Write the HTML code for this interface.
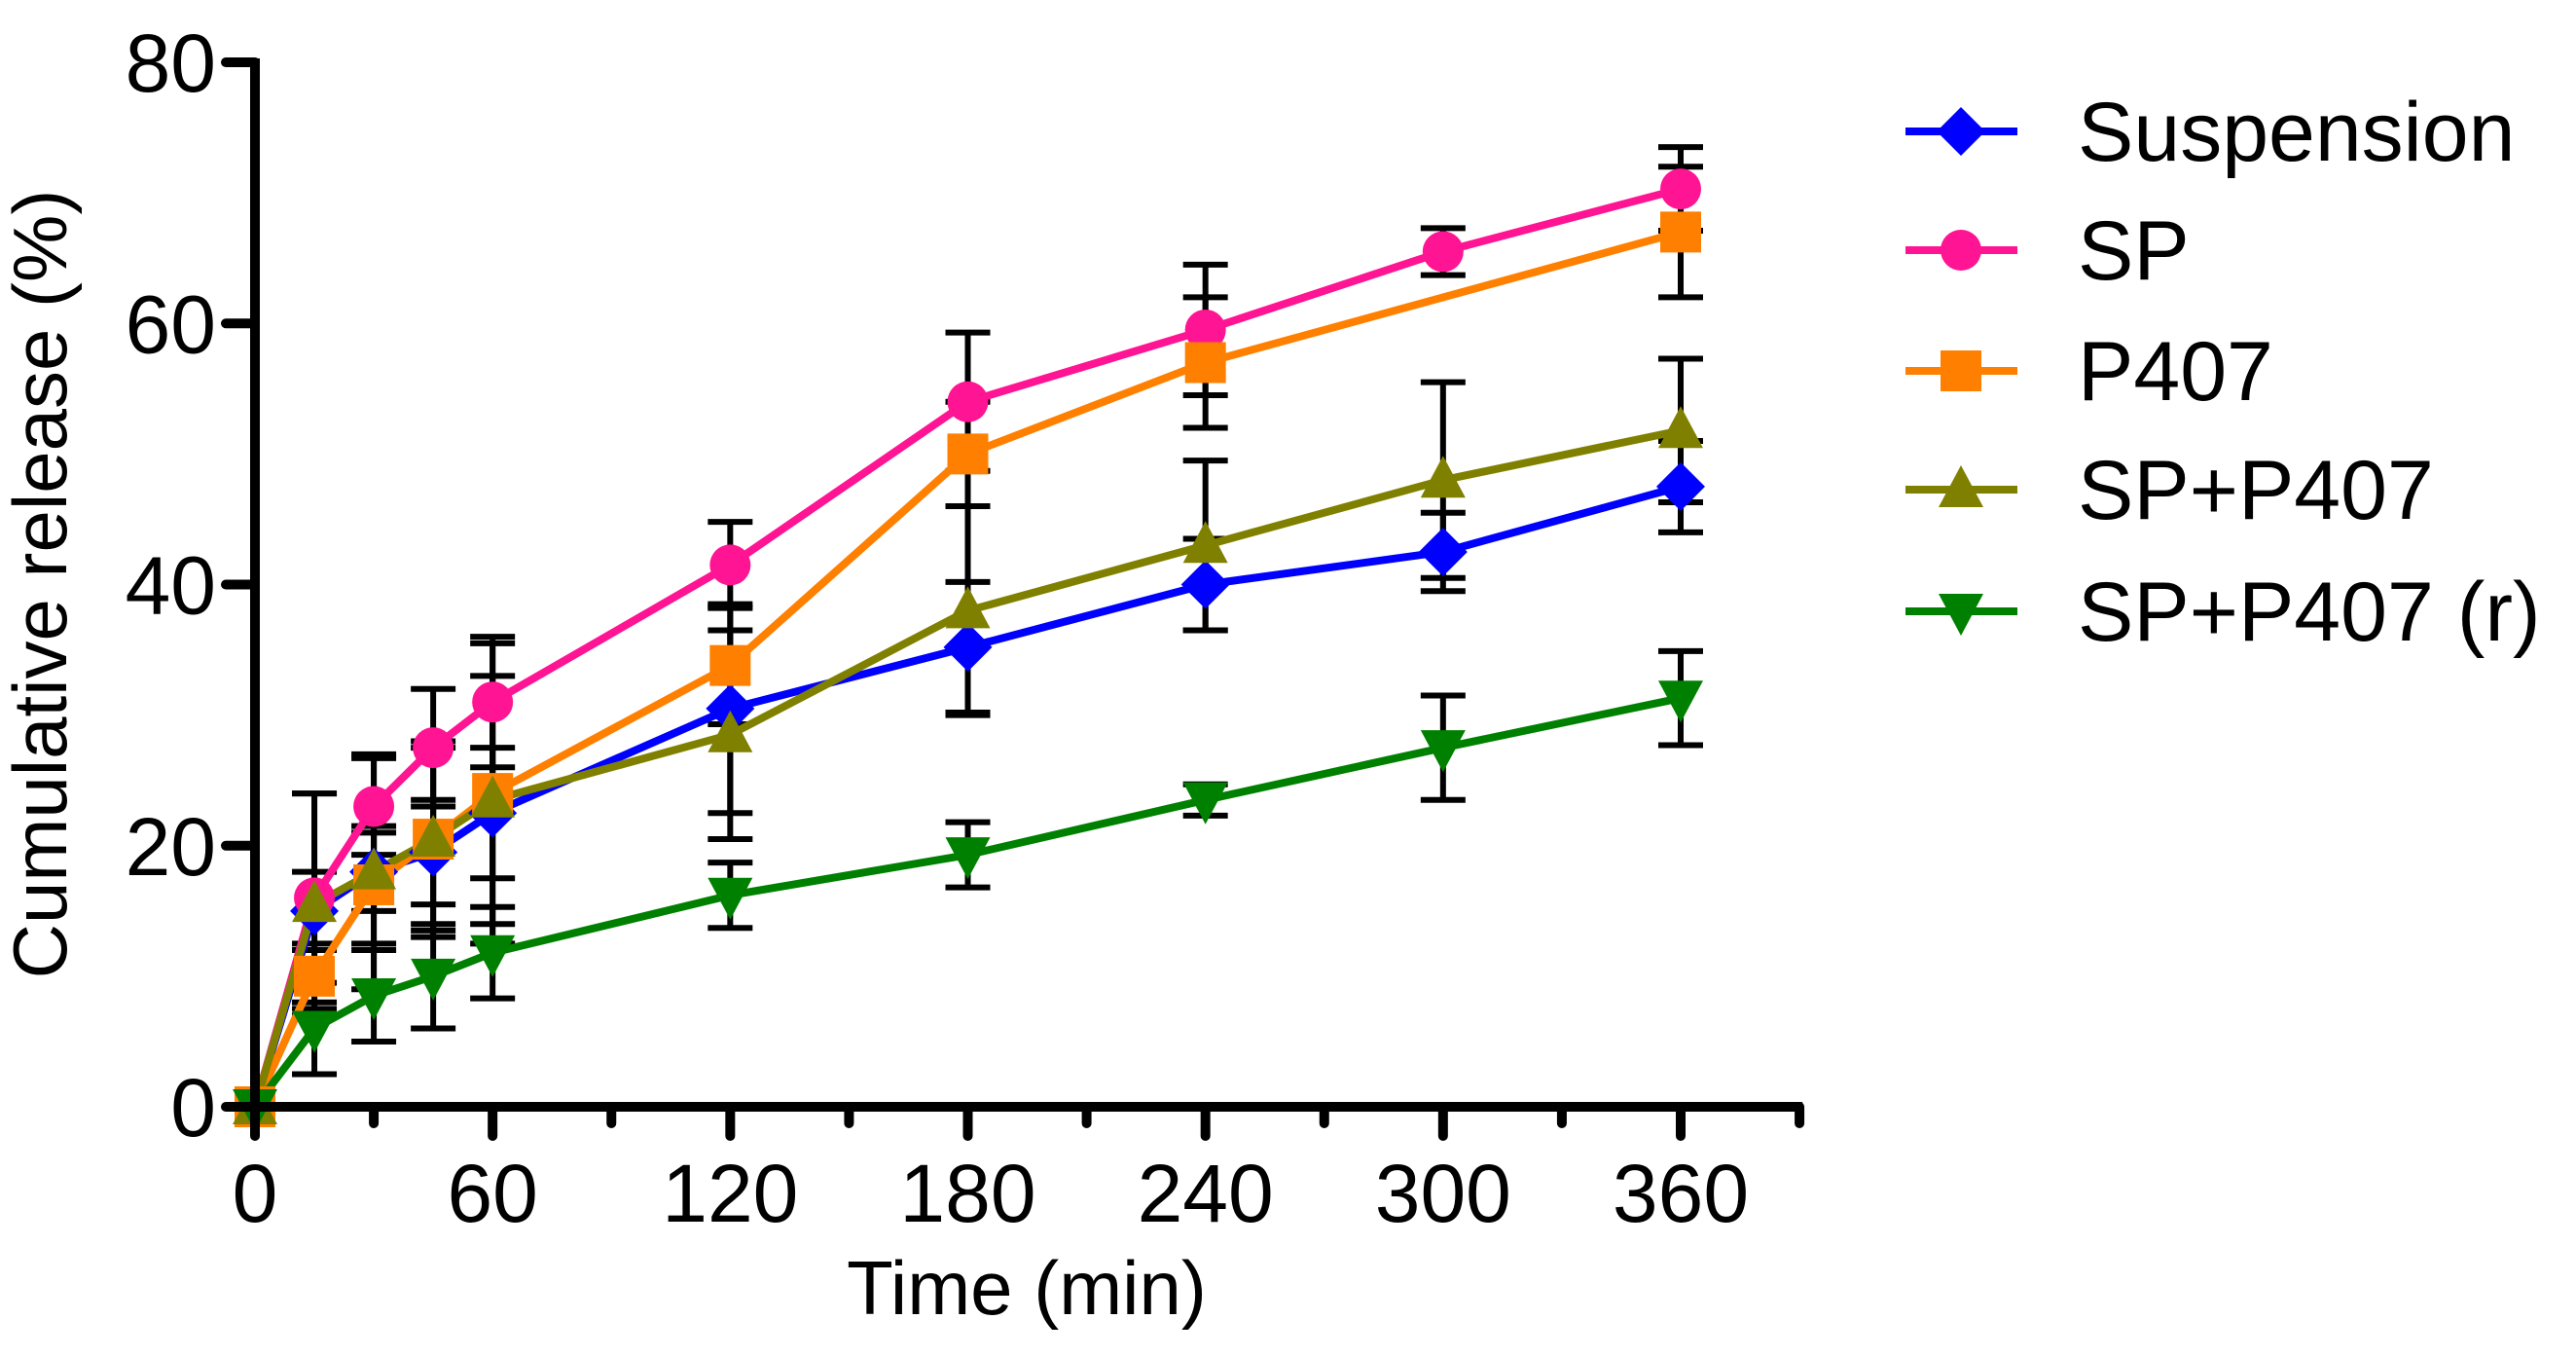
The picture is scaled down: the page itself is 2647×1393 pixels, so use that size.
<!DOCTYPE html>
<html><head><meta charset="utf-8"><style>
html,body{margin:0;padding:0;background:#fff}
svg{display:block}
text{font-family:"Liberation Sans",Arial,sans-serif;fill:#000}
</style></head><body>
<svg id="chart" width="2647" height="1393" viewBox="0 0 2647 1393">
<g id="bars"></g>
<g id="lines"></g>
<g id="marks"></g>
<g id="axes"></g>
<g id="legend"></g>
<text x="1055" y="1350" font-size="78" text-anchor="middle">Time (min)</text>
<text transform="translate(68,600) rotate(-90)" font-size="78" text-anchor="middle">Cumulative release (%)</text>
</svg>
<script>
const times = [0,15,30,45,60,120,180,240,300,360];
const suspension = [0,15,18,19.5,22.5,30.5,35.2,40,42.5,47.5];
const suspensionErr = [0,3,3,4,5,8,5,3.5,3,3.5];
const sp = [0,16,23,27.5,31,41.5,54,59.5,65.5,70.3];
const spErr = [0,8,3.7,4.5,5,3.3,5.3,5,1.8,3.2];
const p407Times = [0,15,30,45,60,120,180,240,360];
const p407 = [0,10,17,20.5,24,33.8,50,57,67];
const p407Err = [0,2.5,4.5,7,11.5,4.5,4,5,5];
const spP407 = [0,15.5,18,20.5,23.5,28.5,38,43,48,51.8];
const spP407Err = [0,8.5,9,7.5,9.5,8,8,6.5,7.5,5.5];
const spP407r = [0,6,8.5,10,11.8,16.2,19.3,23.5,27.5,31.3];
const spP407rErr = [0,3.5,3.5,4,3.5,2.5,2.5,1.2,4,3.6];
const xTicks = [0,60,120,180,240,300,360];
const xMinor = [30,90,150,210,270,330,390];
const yTicks = [0,20,40,60,80];
const legendLabels = ["Suspension","SP","P407","SP+P407","SP+P407 (r)"];

const NS="http://www.w3.org/2000/svg";
const X0=262,XS=(1727-262)/360,Y0=1137,YS=(1137-64)/80;
const xs=v=>X0+v*XS, ys=v=>Y0-v*YS;
function mk(tag,attrs,parent){const e=document.createElementNS(NS,tag);for(const k in attrs)e.setAttribute(k,attrs[k]);parent.appendChild(e);return e;}
const gB=document.getElementById('bars'),gL=document.getElementById('lines'),gM=document.getElementById('marks'),gA=document.getElementById('axes'),gG=document.getElementById('legend');

const series=[
 {name:'suspension',t:times,v:suspension,e:suspensionErr,c:'#0000ff',m:'diamond'},
 {name:'sp',t:times,v:sp,e:spErr,c:'#ff1493',m:'circle'},
 {name:'p407',t:p407Times,v:p407,e:p407Err,c:'#ff8000',m:'square'},
 {name:'sp-p407',t:times,v:spP407,e:spP407Err,c:'#808000',m:'up'},
 {name:'sp-p407-r',t:times,v:spP407r,e:spP407rErr,c:'#008000',m:'down'}];

function marker(type,x,y,c,parent){
 let el;
 if(type==='circle') el=mk('circle',{cx:x,cy:y,r:21,fill:c},parent);
 else if(type==='square') el=mk('rect',{x:x-21,y:y-21,width:42,height:42,fill:c},parent);
 else if(type==='diamond') el=mk('polygon',{points:`${x},${y-25} ${x+25},${y} ${x},${y+25} ${x-25},${y}`,fill:c},parent);
 else if(type==='up') el=mk('polygon',{points:`${x},${y-25} ${x+23},${y+18} ${x-23},${y+18}`,fill:c},parent);
 else el=mk('polygon',{points:`${x},${y+25} ${x+23},${y-18} ${x-23},${y-18}`,fill:c},parent);
 return el;
}

series.forEach(s=>{
 s.t.forEach((t,i)=>{
  if(!s.e[i])return;
  const x=xs(t),y1=ys(s.v[i]+s.e[i]),y2=ys(s.v[i]-s.e[i]);
  const g=mk('g',{},gB);
  
  
  mk('line',{x1:x,x2:x,y1:y1,y2:y2,stroke:'#000','stroke-width':6},g);
  mk('line',{x1:x-23,x2:x+23,y1:y1,y2:y1,stroke:'#000','stroke-width':6},g);
  mk('line',{x1:x-23,x2:x+23,y1:y2,y2:y2,stroke:'#000','stroke-width':6},g);
 });
 const pl=mk('polyline',{points:s.t.map((t,i)=>xs(t)+','+ys(s.v[i])).join(' '),fill:'none',stroke:s.c,'stroke-width':8,'stroke-linejoin':'round'},gL);
 
 
 s.t.forEach((t,i)=>{
  const m=marker(s.m,xs(t),ys(s.v[i]),s.c,gM);
  
  
 });
});

mk('line',{x1:X0,x2:X0,y1:ys(80)-4,y2:Y0+5,stroke:'#000','stroke-width':10},gA);
mk('line',{x1:X0-5,x2:xs(390)+3,y1:Y0,y2:Y0,stroke:'#000','stroke-width':10},gA);
yTicks.forEach(v=>{
 mk('line',{x1:X0-30,x2:X0,y1:ys(v),y2:ys(v),stroke:'#000','stroke-width':10,'stroke-linecap':'round'},gA);
 const t=mk('text',{x:X0-40,y:ys(v)+30,'font-size':84,'text-anchor':'end'},gA);
 t.textContent=v;
 
 
});
xTicks.forEach(v=>{
 mk('line',{x1:xs(v),x2:xs(v),y1:Y0,y2:Y0+30,stroke:'#000','stroke-width':10,'stroke-linecap':'round'},gA);
 const t=mk('text',{x:xs(v),y:Y0+118,'font-size':84,'text-anchor':'middle'},gA);
 t.textContent=v;
 
 
});
xMinor.forEach(v=>{
 mk('line',{x1:xs(v),x2:xs(v),y1:Y0,y2:Y0+17,stroke:'#000','stroke-width':10,'stroke-linecap':'round'},gA);
});

const legY=[135,257,381,503,628];
series.forEach((s,i)=>{
 const g=mk('g',{},gG);
 
 
 mk('line',{x1:1958,x2:2073,y1:legY[i],y2:legY[i],stroke:s.c,'stroke-width':8},g);
 marker(s.m,2015,legY[i],s.c,g);
 const t=mk('text',{x:2135,y:legY[i]+30,'font-size':86},g);
 t.textContent=legendLabels[i];
});
</script>
</body></html>
